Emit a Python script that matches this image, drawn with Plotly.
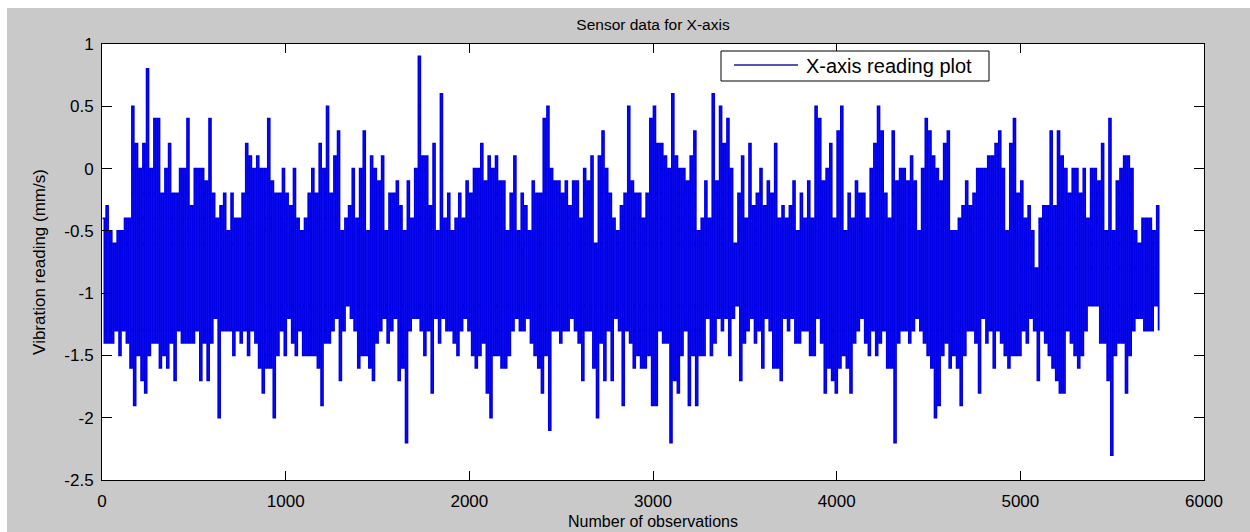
import numpy as np
import plotly.graph_objects as go

# Vibration sensor, X-axis: the record is summarised in blocks of 20
# observations; for each block the highest and lowest reading (in tenths
# of mm/s) are kept, which is enough to draw the dense trace at this width.
BLOCK_SIZE = 20

peak_tenths = [
    -4, -3, -5, -6, -5, -5, -4, -4, 5, 2, 0, 2, 8, 0, 4, 4, -2, 0, 2, -2, -2, 0, 0, 4, -3, 0, 0,
    0, -1, 4, -2, -4, -3, -2, -5, -2, -4, -4, -2, 2, 1, 0, 1, 0, 0, 4, -1, -2, -2, 0, -2, -3, 0, -4,
    -5, -4, -2, 0, -2, 2, 0, 5, -2, 1, 3, -5, -4, -3, 0, -4, 0, 3, -5, 1, 0, -1, 1, -5, -2, -2, -1,
    -3, -5, -1, -4, 0, 9, 1, 1, -3, 2, -5, 6, -4, -2, -5, -4, -2, -4, -1, -2, 0, 0, 2, -1, 1, 0, 1, -1,
    -1, -5, -2, 1, -5, -2, -3, -5, -1, -2, -2, 4, 5, 0, -1, -1, -2, -1, -3, -1, -1, -4, 0, -1, 1, -6, 1,
    3, 0, -2, -4, -5, -3, -2, 5, -1, -2, -2, -4, -2, 4, 5, 2, 2, 1, 0, 6, 1, 0, 0, -1, 1, 3, -5,
    -4, -1, -4, 6, -1, 5, 2, 4, 0, -6, -2, 1, -4, 2, -3, -2, 0, -3, -1, -2, 2, -4, -3, -4, -3, -1, -5,
    -2, -4, -1, -4, 5, 4, -1, 0, 2, -4, 3, 5, -5, -2, -4, -1, -2, -2, -4, 0, 2, 5, 3, -2, -4, 3, -1, 0,
    0, -1, 1, -1, -5, 0, 4, 3, 1, 0, -1, 2, 3, -5, -5, -4, -3, -1, -3, -2, 0, 0, 0, 1, 1, 2, 3,
    0, -5, 2, 4, -2, -1, -4, -3, -5, -8, -4, -3, -3, 3, -3, 3, 1, 0, -2, 0, 0, -2, 0, -4, 0, 0, -1,
    2, -5, 4, -5, -1, 0, 1, 1, 0, -5, -6, -4, -4, -4, -5, -3,
]

trough_tenths = [
    -14, -14, -14, -13, -15, -13, -14, -16, -19, -15, -17, -18, -15, -14, -14, -16, -15, -16, -14, -17, -13, -14, -14, -14, -14, -13, -17,
    -14, -17, -14, -12, -20, -13, -13, -13, -15, -13, -14, -13, -15, -13, -14, -16, -18, -16, -16, -20, -15, -13, -15, -12, -14, -15, -13,
    -15, -15, -15, -15, -16, -19, -14, -14, -13, -12, -17, -13, -11, -12, -13, -16, -15, -15, -16, -17, -14, -13, -12, -14, -13, -12, -17,
    -16, -22, -13, -12, -12, -13, -15, -13, -18, -12, -14, -12, -13, -13, -14, -15, -13, -12, -13, -15, -16, -15, -14, -18, -20, -15, -15, -16,
    -16, -15, -13, -12, -13, -13, -12, -14, -15, -16, -18, -15, -21, -13, -13, -14, -13, -13, -12, -13, -14, -17, -13, -13, -16, -20, -14,
    -17, -13, -17, -12, -13, -19, -13, -14, -16, -15, -16, -16, -15, -19, -19, -13, -14, -14, -22, -17, -18, -15, -13, -19, -15, -19, -15,
    -15, -12, -15, -14, -12, -13, -12, -15, -12, -11, -17, -14, -13, -12, -14, -13, -16, -12, -13, -16, -16, -17, -12, -13, -12, -14, -14,
    -13, -13, -15, -15, -12, -14, -18, -16, -17, -18, -16, -15, -16, -18, -14, -13, -12, -14, -15, -13, -15, -14, -13, -16, -16, -22, -14, -13,
    -13, -14, -13, -12, -13, -14, -15, -16, -20, -19, -15, -14, -16, -15, -16, -19, -15, -13, -13, -14, -18, -12, -14, -13, -16, -13, -14,
    -15, -16, -15, -15, -15, -13, -14, -12, -13, -17, -13, -14, -15, -16, -17, -18, -18, -13, -14, -15, -16, -15, -13, -11, -11, -11, -14,
    -14, -17, -23, -15, -14, -14, -18, -15, -13, -12, -12, -13, -13, -13, -11, -13,
]

x_ticks = [0, 1000, 2000, 3000, 4000, 5000, 6000]
x_tick_labels = ["0", "1000", "2000", "3000", "4000", "5000", "6000"]
y_ticks = [-2.5, -2, -1.5, -1, -0.5, 0, 0.5, 1]
y_tick_labels = ["-2.5", "-2", "-1.5", "-1", "-0.5", "0", "0.5", "1"]

SERIES_NAME = "X-axis reading plot"

# interleave peak and trough of each block so the line sweeps the full range
peaks = np.array(peak_tenths) / 10.0
troughs = np.array(trough_tenths) / 10.0
block_start = np.arange(len(peaks)) * BLOCK_SIZE
obs = np.empty(2 * len(peaks))
reading = np.empty(2 * len(peaks))
obs[0::2] = block_start + 3
obs[1::2] = block_start + 13
reading[0::2] = peaks
reading[1::2] = troughs

FONT = "Liberation Sans, Arial, sans-serif"
FIG_GRAY = "#c9c9c9"
LINE_BLUE = "#0000e8"

fig = go.Figure()
fig.add_trace(go.Scatter(
    x=obs, y=reading, mode="lines",
    name=SERIES_NAME, showlegend=False,
    line=dict(color=LINE_BLUE, width=1.8, shape="hv"),
))

W, H = 1250, 532
L, R, T, B = 102, 46, 44, 52
pw, ph = W - L - R, H - T - B


def px_x(px):
    return (px - L) / pw


def px_y(py):
    return (H - B - py) / ph


# legend box drawn in paper space: frame, sample line and label
legend_shapes = [
    dict(type="rect", xref="paper", yref="paper", layer="above",
         x0=px_x(721), x1=px_x(989), y0=px_y(81), y1=px_y(51),
         fillcolor="white", line=dict(color="black", width=1)),
    dict(type="line", xref="paper", yref="paper", layer="above",
         x0=px_x(734), x1=px_x(798), y0=px_y(65), y1=px_y(65),
         line=dict(color="#1c1c9a", width=1.3)),
]

fig.update_layout(
    width=W, height=H,
    margin=dict(l=L, r=R, t=T, b=B, pad=0, autoexpand=False),
    paper_bgcolor="white",
    plot_bgcolor="white",
    font=dict(family=FONT, size=16, color="black"),
    title=dict(text="Sensor data for X-axis", x=0.5 * (L + W - R) / W, xanchor="center",
               y=1 - 25 / H, yanchor="middle", font=dict(size=15.5, color="black")),
    showlegend=False,
    shapes=[
        dict(type="rect", xref="paper", yref="paper", layer="below",
             x0=px_x(7), x1=px_x(W + 2), y0=px_y(H + 2), y1=px_y(8),
             fillcolor=FIG_GRAY, line=dict(width=0)),
        dict(type="rect", xref="paper", yref="paper", layer="below",
             x0=0, x1=1, y0=0, y1=1, fillcolor="white", line=dict(width=0)),
    ] + legend_shapes,
    annotations=[
        dict(text=SERIES_NAME, xref="paper", yref="paper",
             x=px_x(804), y=px_y(66), xanchor="left", yanchor="middle",
             showarrow=False, font=dict(size=20, color="black")),
    ],
)

fig.update_xaxes(
    range=[0, 6000], tickvals=x_ticks, ticktext=x_tick_labels,
    ticks="inside", ticklen=9, tickwidth=1, tickcolor="black",
    showline=True, linecolor="black", linewidth=1, mirror="ticks",
    showgrid=False, zeroline=False, ticklabelstandoff=6, automargin=False,
    tickfont=dict(size=17, color="black"),
    title=dict(text="Number of observations", font=dict(size=16, color="black"), standoff=5),
)
fig.update_yaxes(
    range=[-2.5, 1], tickvals=y_ticks, ticktext=y_tick_labels,
    ticks="inside", ticklen=10, tickwidth=1, tickcolor="black",
    showline=True, linecolor="black", linewidth=1, mirror="ticks",
    showgrid=False, zeroline=False, ticklabelstandoff=4, automargin=False,
    tickfont=dict(size=17, color="black"),
    title=dict(text="Vibration reading (mm/s)", font=dict(size=17, color="black"), standoff=14),
)

fig.write_html("out.html")
